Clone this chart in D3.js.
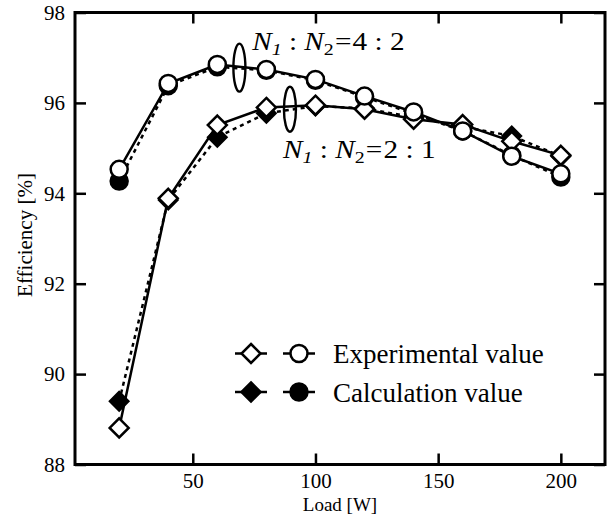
<!DOCTYPE html>
<html>
<head>
<meta charset="utf-8">
<script src="https://cdn.jsdelivr.net/npm/d3@7"></script>
<style>
  body { margin: 0; background: #fff; }
  text { font-family: "Liberation Serif", "Times New Roman", serif; fill: #000; }
</style>
</head>
<body>
<script>
// load values [W]
var loads = [20, 40, 60, 80, 100, 120, 140, 160, 180, 200];

// efficiency [%]
var exp42  = [94.53, 96.43, 96.85, 96.74, 96.52, 96.15, 95.80, 95.38, 94.82, 94.43];
var calc42 = [94.27, 96.38, 96.80, 96.72, 96.50, 96.13, 95.76, 95.38, 94.84, 94.36];
var exp21  = [88.81, 93.89, 95.51, 95.90, 95.95, 95.86, 95.64, 95.52, 95.15, 94.84];
var calc21 = [89.40, 93.85, 95.24, 95.77, 95.93, 95.88, 95.68, 95.47, 95.27, 94.82];

var xTicks = [50, 100, 150, 200];
var yTicks = [88, 90, 92, 94, 96, 98];

var svg_width = 611;
var svg_height = 515;

// plot frame edges
var plot_left = 75, plot_right = 605, plot_top = 12.5, plot_bottom = 464.5;

var svg = d3.select('body').append('svg')
  .attr('width', svg_width)
  .attr('height', svg_height);

var xScale = d3.scaleLinear().domain([2, 218]).range([plot_left, plot_right]);
var yScale = d3.scaleLinear().domain([88, 98]).range([plot_bottom, plot_top]);

// axes, ticks pointing inward
var axisStyle = function(g) {
  g.attr('font-family', null);
  g.select('.domain').remove();
  g.selectAll('line').attr('stroke', '#000').attr('stroke-width', 2.5);
  g.selectAll('text')
    .style('font-family', '"Liberation Serif", serif')
    .style('font-size', '21px');
};

svg.append('g')
  .attr('transform', 'translate(0,' + plot_bottom + ')')
  .call(d3.axisBottom(xScale).tickValues(xTicks).tickSize(-11).tickPadding(9))
  .call(axisStyle);

svg.append('g')
  .attr('transform', 'translate(0,' + plot_top + ')')
  .call(d3.axisTop(xScale).tickValues(xTicks).tickSize(-11).tickFormat(''))
  .call(axisStyle);

svg.append('g')
  .attr('transform', 'translate(' + plot_left + ',0)')
  .call(d3.axisLeft(yScale).tickValues(yTicks).tickSize(-11).tickPadding(10))
  .call(axisStyle);

svg.append('g')
  .attr('transform', 'translate(' + plot_right + ',0)')
  .call(d3.axisRight(yScale).tickValues(yTicks).tickSize(-11).tickFormat(''))
  .call(axisStyle);

// frame
svg.append('rect')
  .attr('x', plot_left).attr('y', plot_top)
  .attr('width', plot_right - plot_left).attr('height', plot_bottom - plot_top)
  .attr('fill', 'none').attr('stroke', '#000').attr('stroke-width', 3);

// axis titles
svg.append('text')
  .attr('x', (plot_left + plot_right) / 2)
  .attr('y', 511)
  .attr('text-anchor', 'middle')
  .style('font-size', '19px')
  .text('Load [W]');

svg.append('text')
  .attr('text-anchor', 'middle')
  .attr('transform', 'translate(32,235) rotate(-90)')
  .style('font-size', '21px')
  .text('Efficiency [%]');

var line = d3.line()
  .x((d, i) => xScale(loads[i]))
  .y(d => yScale(d));

var diamond = function(h) {
  return 'M0,' + (-h) + 'L' + h + ',0L0,' + h + 'L' + (-h) + ',0Z';
};

// calculated curves (dashed, filled marks)
[calc42, calc21].forEach(function(s) {
  svg.append('path')
    .datum(s)
    .attr('d', line)
    .attr('fill', 'none')
    .attr('stroke', '#000')
    .attr('stroke-width', 2.5)
    .attr('stroke-dasharray', '4,4');
});

// experimental curves (solid)
[exp42, exp21].forEach(function(s) {
  svg.append('path')
    .datum(s)
    .attr('d', line)
    .attr('fill', 'none')
    .attr('stroke', '#000')
    .attr('stroke-width', 2.5);
});

svg.selectAll('.calc-dia')
  .data(calc21).enter().append('path')
  .attr('class', 'calc-dia')
  .attr('d', diamond(9.5))
  .attr('transform', (d, i) => 'translate(' + xScale(loads[i]) + ',' + yScale(d) + ')')
  .attr('fill', '#000').attr('stroke', '#000').attr('stroke-width', 2);

svg.selectAll('.calc-circ')
  .data(calc42).enter().append('circle')
  .attr('class', 'calc-circ')
  .attr('cx', (d, i) => xScale(loads[i]))
  .attr('cy', d => yScale(d))
  .attr('r', 8.5)
  .attr('fill', '#000').attr('stroke', '#000').attr('stroke-width', 2.5);

svg.selectAll('.exp-dia')
  .data(exp21).enter().append('path')
  .attr('class', 'exp-dia')
  .attr('d', diamond(9.5))
  .attr('transform', (d, i) => 'translate(' + xScale(loads[i]) + ',' + yScale(d) + ')')
  .attr('fill', '#fff').attr('stroke', '#000').attr('stroke-width', 2.5);

svg.selectAll('.exp-circ')
  .data(exp42).enter().append('circle')
  .attr('class', 'exp-circ')
  .attr('cx', (d, i) => xScale(loads[i]))
  .attr('cy', d => yScale(d))
  .attr('r', 8.5)
  .attr('fill', '#fff').attr('stroke', '#000').attr('stroke-width', 2.5);

// grouping loops
var loops = [[69, 96.78, 24], [89.6, 95.86, 22.5]];
svg.selectAll('.loop')
  .data(loops).enter().append('ellipse')
  .attr('cx', d => xScale(d[0]))
  .attr('cy', d => yScale(d[1]))
  .attr('rx', 6)
  .attr('ry', d => d[2])
  .attr('fill', 'none')
  .attr('stroke', '#000')
  .attr('stroke-width', 2.4);

// ratio labels
var ratioLabel = function(x, y, a, b) {
  var t = svg.append('text')
    .attr('transform', 'translate(' + xScale(x) + ',' + yScale(y) + ') scale(1.17,1)')
    .style('font-size', '25px');
  t.append('tspan').style('font-style', 'italic').text('N');
  t.append('tspan').style('font-style', 'italic').style('font-size', '17px').attr('dy', 5).text('1');
  t.append('tspan').attr('dy', -5).text(' : ');
  t.append('tspan').style('font-style', 'italic').text('N');
  t.append('tspan').style('font-size', '17px').attr('dy', 5).text('2');
  t.append('tspan').attr('dy', -5).attr('dx', 1).text('=');
  t.append('tspan').attr('dx', 1).text(a + ' : ' + b);
};
ratioLabel(74.2, 97.17, 4, 2);
ratioLabel(86.8, 94.79, 2, 1);

// legend
var legendRows = [
  { label: 'Experimental value', fill: '#fff', y: 353.5 },
  { label: 'Calculation value', fill: '#000', y: 392 }
];

var lg = svg.selectAll('.legend').data(legendRows).enter().append('g')
  .attr('transform', d => 'translate(0,' + d.y + ')');

lg.append('line')
  .attr('x1', 235).attr('x2', 267).attr('y1', 0).attr('y2', 0)
  .attr('stroke', '#000').attr('stroke-width', 2.5);
lg.append('line')
  .attr('x1', 283).attr('x2', 315).attr('y1', 0).attr('y2', 0)
  .attr('stroke', '#000').attr('stroke-width', 2.5);
lg.append('path')
  .attr('d', diamond(9.5))
  .attr('transform', 'translate(251,0)')
  .attr('fill', d => d.fill).attr('stroke', '#000').attr('stroke-width', 2.5);
lg.append('circle')
  .attr('cx', 299).attr('cy', 0).attr('r', 8.5)
  .attr('fill', d => d.fill).attr('stroke', '#000').attr('stroke-width', 2.5);
lg.append('text')
  .attr('x', 333).attr('y', 9.5)
  .style('font-size', '27px')
  .text(d => d.label);
</script>
</body>
</html>
